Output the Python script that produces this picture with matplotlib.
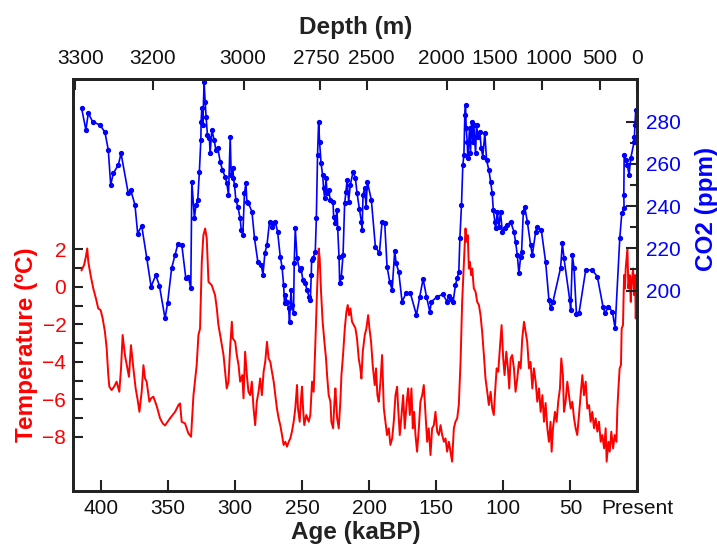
import matplotlib.pyplot as plt
from matplotlib.transforms import ScaledTranslation

plt.rcParams['font.family'] = ['Liberation Sans', 'DejaVu Sans']

# CO2 (ppm) vs age (kaBP)
co2_age = [414.4, 411.2, 409.4, 406.2, 400.7, 397.0, 394.5, 392.7, 390.8, 387.0,
           385.0, 379.6, 377.8, 374.6, 372.6, 369.6, 365.8, 362.6, 359.1, 356.4,
           352.2, 350.3, 347.3, 344.8, 342.7, 339.7, 336.7, 334.8, 333.0, 332.2,
           330.3, 329.2, 327.8, 326.6, 325.5, 325.3, 324.8, 324.0, 323.1, 322.3,
           321.6, 320.6, 319.1, 318.6, 317.3, 315.6, 314.3, 312.8, 311.1, 309.4,
           307.4, 306.1, 304.9, 303.6, 302.9, 301.6, 301.2, 300.4, 299.4, 297.9,
           296.2, 295.4, 294.2, 293.0, 291.9, 291.2, 290.0, 287.4, 285.5, 283.0,
           280.5, 279.2, 277.7, 276.2, 274.3, 272.5, 271.8, 270.0, 268.3, 266.3,
           265.0, 263.8, 263.1, 262.6, 261.3, 260.1, 259.4, 258.3, 257.6, 256.4,
           255.9, 255.1, 253.8, 251.9, 250.9, 249.4, 247.6, 246.4, 244.7, 243.9,
           243.2, 242.9, 241.9, 240.2, 239.4, 238.5, 237.7, 237.0, 235.9, 234.7,
           234.0, 233.2, 232.2, 231.4, 230.2, 229.0, 227.0, 226.5, 225.2, 224.0,
           223.5, 222.5, 222.0, 220.8, 219.5, 218.3, 217.3, 216.5, 215.3, 214.1,
           212.0, 210.3, 209.1, 207.3, 205.8, 205.3, 204.6, 203.4, 202.3, 201.4,
           198.4, 195.4, 192.4, 190.4, 188.4, 186.7, 184.7, 182.9, 181.0, 179.9,
           178.0, 175.5, 172.5, 169.3, 164.8, 162.3, 159.8, 157.3, 154.8, 153.6,
           149.3, 145.1, 141.9, 140.7, 139.0, 137.4, 135.7, 134.4, 133.2, 132.4,
           131.2, 130.2, 129.4, 128.7, 128.2, 127.7, 126.9, 126.5, 125.2, 124.5,
           123.7, 122.7, 122.0, 120.7, 120.0, 119.0, 117.5, 116.5, 115.3, 113.8,
           112.5, 110.8, 109.5, 108.3, 107.5, 106.3, 105.8, 104.5, 103.3, 102.1,
           100.8, 99.1, 97.1, 94.6, 92.1, 90.9, 89.6, 88.4, 87.1, 86.4,
           85.1, 84.1, 82.1, 79.7, 78.4, 75.9, 74.7, 71.7, 68.5, 66.0,
           64.7, 63.0, 57.3, 56.0, 54.8, 50.5, 49.8, 48.5, 47.3, 45.5,
           43.6, 38.6, 33.6, 29.9, 25.7, 24.2, 21.7, 18.7, 16.7, 13.2,
           11.7, 10.0, 10.2, 9.9, 8.7, 7.5, 6.3, 5.0, 2.5, 2.3,
           1.8, 1.3]
co2_ppm = [286.4, 276.1, 284.0, 280.0, 278.4, 275.0, 266.6, 250.0, 255.5, 259.5,
           265.0, 246.0, 247.6, 240.5, 227.0, 230.7, 215.3, 201.8, 207.3, 202.3,
           186.8, 194.0, 210.5, 216.8, 221.9, 221.6, 205.8, 206.5, 201.0, 251.6,
           234.2, 240.5, 242.9, 256.3, 271.3, 280.0, 286.3, 278.4, 299.0, 289.5,
           282.4, 273.7, 272.1, 265.0, 276.1, 271.3, 266.6, 267.4, 261.0, 257.1,
           253.9, 250.8, 245.3, 272.9, 254.7, 257.9, 253.2, 250.0, 242.9, 239.7,
           234.2, 228.7, 226.3, 246.1, 250.8, 242.1, 241.3, 237.3, 224.7, 213.6,
           212.1, 207.5, 218.0, 221.6, 232.6, 230.2, 231.8, 232.6, 227.9, 216.0,
           211.3, 202.6, 193.9, 197.9, 194.7, 191.6, 185.2, 200.2, 193.1, 189.2,
           212.9, 229.5, 215.3, 209.7, 210.5, 205.0, 203.4, 200.2, 197.1, 195.5,
           207.3, 214.5, 215.3, 218.4, 234.2, 264.2, 280.0, 270.5, 260.3, 254.7,
           248.4, 243.7, 253.2, 246.1, 247.6, 242.9, 242.1, 235.0, 231.8, 238.2,
           229.5, 216.0, 203.4, 206.5, 216.8, 241.3, 246.8, 252.4, 242.1, 250.0,
           256.3, 253.2, 246.4, 238.5, 232.6, 228.7, 245.3, 248.4, 239.7, 251.6,
           242.9, 220.8, 217.6, 232.6, 231.8, 211.3, 204.2, 200.2, 218.7, 212.9,
           208.9, 194.7, 198.7, 198.7, 188.4, 197.1, 205.5, 197.1, 190.0, 194.7,
           197.1, 198.2, 194.7, 197.5, 196.0, 194.7, 202.6, 205.8, 208.9, 224.7,
           240.5, 259.5, 264.2, 283.2, 287.9, 276.9, 270.5, 262.7, 276.9, 265.0,
           280.0, 270.5, 278.4, 265.0, 278.4, 272.9, 275.3, 267.4, 263.4, 274.5,
           261.8, 257.1, 251.6, 246.1, 238.2, 232.6, 229.5, 237.3, 230.2, 237.3,
           227.9, 229.5, 231.0, 232.6, 227.9, 223.1, 216.8, 208.2, 216.0, 218.4,
           237.3, 239.7, 232.6, 221.6, 216.8, 227.9, 230.2, 228.7, 213.6, 195.5,
           191.6, 194.7, 210.8, 222.4, 215.3, 195.5, 190.8, 216.8, 210.5, 188.7,
           189.2, 209.7, 209.7, 206.5, 192.3, 189.2, 192.3, 190.0, 182.1, 224.7,
           236.6, 239.0, 245.3, 264.2, 261.8, 259.5, 254.7, 262.7, 270.5, 272.9,
           278.4, 285.5]

# temperature anomaly (degC) vs age (kaBP)
temp_age = [414.4, 412.6, 411.2, 410.2, 409.4, 407.7, 405.7, 403.7, 402.0, 400.2,
            398.7, 397.0, 395.7, 394.5, 393.7, 392.0, 390.2, 388.3, 386.3, 385.0,
            383.8, 382.1, 380.3, 379.1, 377.6, 375.8, 374.1, 372.6, 371.3, 369.6,
            368.3, 367.1, 365.9, 363.9, 362.6, 360.9, 359.1, 357.9, 355.9, 353.9,
            352.2, 348.5, 344.7, 342.2, 341.0, 339.8, 337.3, 334.8, 332.8, 331.0,
            328.6, 327.3, 326.1, 324.8, 323.6, 322.3, 321.1, 319.8, 318.6, 317.4,
            314.9, 313.6, 312.4, 311.1, 308.6, 306.2, 304.9, 303.7, 302.4, 301.7,
            299.9, 298.7, 297.4, 296.2, 294.6, 293.7, 292.5, 291.2, 290.0, 288.7,
            287.5, 286.2, 285.0, 283.8, 282.5, 281.3, 280.0, 278.7, 277.5, 276.2,
            275.0, 273.7, 272.5, 271.2, 270.0, 268.8, 267.5, 266.3, 265.0, 263.8,
            262.5, 261.3, 260.0, 258.8, 257.6, 256.3, 255.1, 253.8, 253.1, 251.8,
            250.8, 250.1, 249.3, 248.4, 246.9, 245.1, 243.9, 242.6, 241.4, 240.1,
            238.9, 237.6, 236.9, 235.9, 234.7, 233.4, 232.2, 231.4, 230.2, 228.9,
            228.2, 226.9, 225.9, 225.2, 223.9, 222.7, 221.5, 220.7, 219.5, 218.2,
            217.0, 216.0, 215.0, 214.0, 212.8, 211.5, 210.3, 209.1, 207.8, 206.6,
            205.8, 204.8, 203.3, 202.1, 200.8, 199.8, 198.6, 197.4, 195.9, 194.9,
            193.9, 192.9, 191.6, 190.4, 189.1, 187.9, 186.7, 185.4, 184.2, 182.9,
            181.7, 180.4, 179.2, 178.4, 177.2, 175.9, 174.7, 173.5, 172.2, 171.0,
            169.7, 168.5, 167.5, 166.5, 165.5, 164.3, 163.0, 161.8, 160.5, 159.3,
            158.1, 156.8, 155.6, 154.3, 153.1, 151.8, 150.6, 149.3, 148.1, 146.8,
            145.6, 144.3, 143.1, 141.9, 140.6, 139.4, 138.2, 136.9, 135.7, 134.4,
            133.2, 131.9, 130.7, 129.4, 128.7, 128.2, 127.5, 126.5, 125.7, 125.0,
            124.0, 123.2, 122.0, 120.7, 119.5, 118.2, 117.0, 115.8, 114.5, 113.3,
            112.0, 110.8, 109.5, 108.3, 107.1, 106.3, 105.0, 103.8, 102.6, 101.3,
            100.1, 99.1, 97.8, 96.6, 95.6, 94.6, 93.4, 92.1, 90.9, 89.6,
            88.4, 87.1, 85.9, 84.6, 83.4, 82.2, 80.9, 79.7, 78.4, 77.2,
            75.9, 74.7, 73.4, 72.2, 70.9, 69.7, 68.5, 67.2, 66.0, 64.8,
            64.0, 63.0, 61.5, 60.3, 59.1, 57.8, 56.8, 55.6, 54.8, 53.6,
            52.3, 51.1, 49.8, 48.6, 47.3, 46.1, 44.9, 43.6, 42.4, 41.1,
            39.9, 38.6, 37.4, 36.1, 34.9, 33.7, 32.4, 31.2, 29.9, 28.7,
            27.4, 26.2, 24.9, 23.7, 23.0, 21.7, 20.7, 19.5, 18.2, 17.0,
            15.7, 15.0, 14.2, 13.3, 12.3, 11.8, 10.8, 10.0, 9.3, 8.8,
            7.5, 6.8, 5.8, 5.0, 4.3, 3.3, 2.5, 1.8, 1.3, 0.8,
            0.0]
temp_c = [0.89, 1.16, 1.61, 2.05, 1.34, 0.63, -0.08, -0.62, -1.15, -1.24,
          -1.68, -2.40, -3.29, -4.71, -5.33, -5.51, -5.33, -5.06, -5.60, -4.35,
          -2.57, -3.64, -4.35, -4.80, -3.11, -4.35, -5.42, -6.04, -6.67, -5.60,
          -4.18, -4.89, -5.06, -6.13, -5.95, -5.86, -6.22, -6.49, -7.02, -7.29,
          -7.40, -7.02, -6.67, -6.31, -6.22, -7.20, -7.29, -7.82, -8.00, -5.78,
          -4.17, -2.57, -2.22, 1.34, 2.76, 3.12, 2.58, 0.27, 0.18, 0.09,
          -0.44, -1.15, -2.04, -2.57, -3.64, -5.42, -5.06, -3.29, -1.86, -2.75,
          -2.93, -3.64, -4.17, -5.06, -4.71, -5.95, -3.46, -4.71, -5.60, -5.78,
          -5.06, -6.49, -7.38, -6.13, -5.60, -4.89, -5.78, -4.53, -4.00, -2.93,
          -3.82, -4.00, -4.53, -5.06, -5.78, -6.49, -7.02, -7.38, -7.91, -8.44,
          -8.27, -8.53, -8.27, -8.09, -7.73, -7.20, -6.49, -5.24, -6.49, -7.20,
          -5.95, -5.33, -6.49, -7.38, -6.84, -7.20, -6.84, -5.06, -5.60, -2.93,
          -0.26, 2.05, 1.52, -0.26, -1.86, -2.93, -3.82, -4.71, -5.78, -6.13,
          -7.20, -7.55, -6.13, -5.42, -7.02, -7.55, -6.13, -4.71, -3.64, -2.22,
          -1.33, -0.97, -1.51, -1.15, -1.86, -2.04, -2.20, -2.75, -3.82, -4.35,
          -4.89, -3.46, -2.57, -2.22, -1.51, -2.22, -2.93, -4.17, -5.24, -4.35,
          -5.78, -6.13, -5.06, -3.64, -6.49, -7.20, -7.91, -7.55, -8.44, -8.09,
          -7.20, -5.78, -5.33, -6.49, -7.91, -6.84, -5.78, -7.55, -6.31, -5.42,
          -6.84, -5.42, -7.55, -6.67, -7.91, -8.80, -7.55, -6.13, -5.78, -5.24,
          -6.67, -8.27, -7.55, -8.98, -7.55, -7.38, -6.67, -7.73, -7.91, -7.38,
          -7.91, -8.27, -8.09, -8.80, -8.27, -8.80, -9.33, -7.55, -7.20, -7.02,
          -6.31, -4.00, -0.80, 1.34, 2.41, 3.12, 2.41, 2.76, 0.98, 1.34,
          0.63, 0.98, -0.08, -0.26, -0.80, -0.97, -1.51, -2.40, -3.64, -4.89,
          -5.60, -6.31, -5.60, -6.49, -6.84, -5.78, -4.35, -4.53, -3.29, -2.04,
          -3.82, -4.71, -3.46, -4.35, -5.42, -3.82, -3.64, -4.35, -5.60, -4.89,
          -4.00, -4.35, -2.75, -1.86, -2.40, -2.93, -4.35, -4.00, -5.42, -4.35,
          -5.06, -6.13, -5.42, -6.67, -5.78, -7.20, -6.20, -7.55, -8.27, -7.20,
          -8.80, -7.55, -6.67, -7.20, -6.13, -5.42, -3.82, -4.71, -6.67, -6.13,
          -5.06, -5.78, -6.49, -6.13, -7.02, -7.55, -7.91, -6.84, -5.78, -4.71,
          -5.78, -5.06, -6.49, -6.31, -7.20, -6.67, -7.55, -7.02, -7.73, -7.20,
          -8.27, -7.91, -8.62, -7.55, -9.33, -8.27, -8.80, -7.73, -8.62, -7.91,
          -8.27, -6.49, -5.42, -4.35, -4.17, -2.22, -2.04, 0.63, -0.08, 0.98,
          2.05, -0.08, 0.63, -0.80, 0.27, 0.98, -0.44, 0.63, -1.69, -0.26,
          0.63]

age_ticks = [400, 350, 300, 250, 200, 150, 100, 50, 0]
age_labels = ['400', '350', '300', '250', '200', '150', '100', '50', 'Present']
depth_ticks = [419.5, 361.0, 293.0, 236.5, 201.8, 142.0, 107.1, 70.9, 28.0, 0.0]
depth_labels = ['3300', '3200', '3000', '2750', '2500', '2000', '1500', '1000', '500', '0']
# the original nudges some crowded depth labels sideways (pixels)
depth_nudge = [6, -1, -2, -4, 5, -6, 1, 6, 0, 0]

RED = '#ff0000'
BLUE = '#0000ff'
DARK = '#222222'
TICK_FS = 15
LABEL_FS = 17.5

fig = plt.figure(figsize=(7.17, 5.49), dpi=100)
ax = fig.add_axes([0.1022, 0.1056, 0.7869, 0.7505])
ax2 = ax.twinx()

ax.plot(temp_age, temp_c, color=RED, lw=1.4)
ax2.plot(co2_age, co2_ppm, color=BLUE, lw=1.2, marker='o', ms=2.8)

ax.set_xlim(420.6, 0)
ax.set_ylim(-10.9, 11.1)
ax2.set_ylim(105, 300.2)

# left axis: temperature
ax.set_yticks([-8, -6, -4, -2, 0, 2])
ax.set_yticks([-7, -5, -3, -1, 1], minor=True)
ax.tick_params(axis='y', which='both', direction='in', length=7, width=1.5,
               colors=DARK, labelcolor=RED, labelsize=TICK_FS, pad=5)
ax.set_ylabel('Temperature (ºC)', color=RED, fontsize=LABEL_FS, fontweight='bold')
ax.yaxis.set_label_coords(-0.062, 0.354)

# bottom axis: age
ax.set_xticks(age_ticks, labels=age_labels)
ax.tick_params(axis='x', direction='in', length=8, width=1.5, colors=DARK,
               labelcolor='#111111', labelsize=TICK_FS, pad=6)
ax.set_xlabel('Age (kaBP)', fontsize=LABEL_FS, fontweight='bold', color=DARK,
              labelpad=2)

# right axis: CO2
ax2.set_yticks([200, 220, 240, 260, 280])
ax2.set_yticks([210, 230, 250, 270], minor=True)
ax2.tick_params(axis='y', which='major', direction='in', length=8, width=1.5,
                colors=DARK, labelcolor=BLUE, labelsize=TICK_FS, pad=6)
ax2.tick_params(axis='y', which='minor', direction='in', length=5, width=1.5,
                colors=DARK)
ax2.set_ylabel('CO2 (ppm)', color=BLUE, fontsize=LABEL_FS, fontweight='bold')
ax2.yaxis.set_label_coords(1.102, 0.684)

# top axis: depth
sec = ax.secondary_xaxis('top')
sec.set_xticks(depth_ticks, labels=depth_labels)
sec.tick_params(direction='in', length=8, width=1.5, colors=DARK,
                labelcolor='#111111', labelsize=TICK_FS, pad=8)
sec.set_xlabel('Depth (m)', fontsize=LABEL_FS, fontweight='bold', color=DARK,
               labelpad=11)
for lab, dx in zip(sec.get_xticklabels(), depth_nudge):
    lab.set_transform(lab.get_transform()
                      + ScaledTranslation(dx / 100, 0, fig.dpi_scale_trans))

for a in (ax, ax2, sec):
    for s in a.spines.values():
        s.set_linewidth(2)
        s.set_color(DARK)

fig.savefig('out.png', dpi=100)
